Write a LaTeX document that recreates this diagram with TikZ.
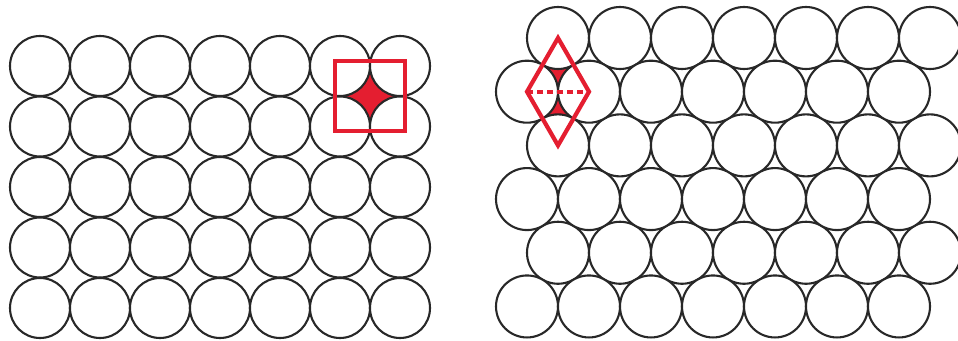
\documentclass[tikz,border=0pt]{standalone}
\definecolor{markred}{RGB}{228,30,48}
\definecolor{ballgray}{RGB}{40,40,40}
\begin{document}
\begin{tikzpicture}[x=1pt,y=-1pt,
  ball/.style={draw=ballgray,line width=2.1pt,fill=white},
  redline/.style={draw=markred,line width=4.2pt,line join=miter}]
\useasboundingbox (0,0) rectangle (958,340);
% ---- left: square packing ----
\fill[markred] (340,66) rectangle (400,126.5);
\foreach \i in {0,...,6}
  \foreach \j in {0,...,4}
    \draw[ball] (40+60*\i, 66+60.5*\j) circle[radius=30];
\draw[redline] (335,61) rectangle (405,131);
% ---- right: hexagonal packing ----
\coordinate (A) at (558,38);
\coordinate (B) at (527,91.7);
\coordinate (C) at (589,91.7);
\coordinate (D) at (558,145.4);
\fill[markred] (A) -- (B) -- (C) -- cycle;
\fill[markred] (D) -- (B) -- (C) -- cycle;
\foreach \j in {0,2,4}
  \foreach \i in {0,...,6}
    \draw[ball] (558+62*\i, 38+53.69*\j) circle[radius=31];
\foreach \j in {1,3,5}
  \foreach \i in {0,...,6}
    \draw[ball] (527+62*\i, 38+53.69*\j) circle[radius=31];
\draw[redline] (A) -- (B) -- (D) -- (C) -- cycle;
\draw[redline,dash pattern=on 6pt off 4pt] (B) -- (C);
\end{tikzpicture}
\end{document}
